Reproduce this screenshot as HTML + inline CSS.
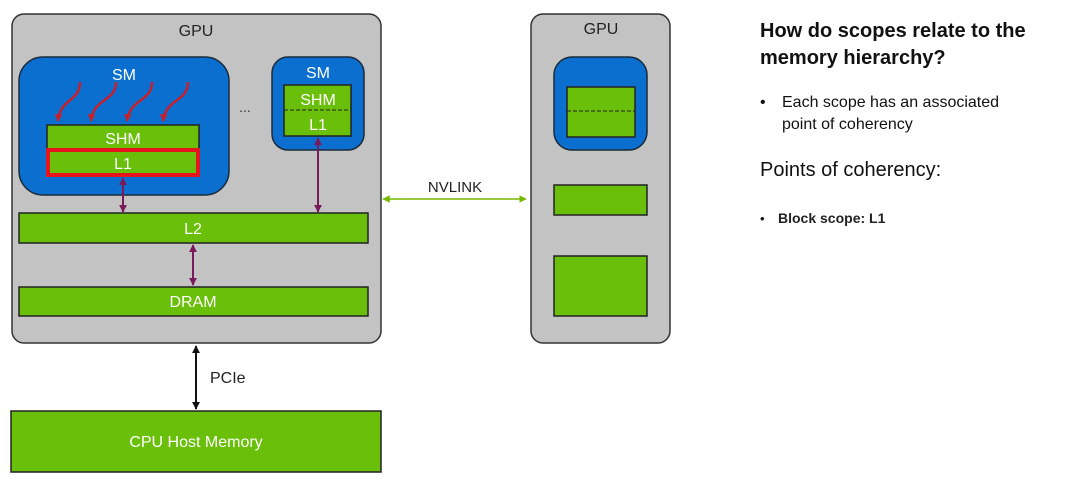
<!DOCTYPE html>
<html><head><meta charset="utf-8"><style>
html,body{margin:0;padding:0;background:#fff;}
svg{display:block;font-family:"Liberation Sans","DejaVu Sans",sans-serif;}
</style></head><body>
<svg width="1080" height="481" viewBox="0 0 1080 481" xmlns="http://www.w3.org/2000/svg">
<defs>
<marker id="pu" viewBox="0 0 10 10" refX="9" refY="5" markerWidth="4" markerHeight="4" orient="auto-start-reverse"><path d="M0,0L10,5L0,10z" fill="#7a1a5a"/></marker>
<marker id="bk" viewBox="0 0 10 10" refX="9" refY="5" markerWidth="4" markerHeight="4" orient="auto-start-reverse"><path d="M0,0L10,5L0,10z" fill="#111"/></marker>
<marker id="gr" viewBox="0 0 10 10" refX="9" refY="5" markerWidth="5" markerHeight="5" orient="auto-start-reverse"><path d="M0,0L10,5L0,10z" fill="#76b900"/></marker>
<marker id="rd" viewBox="0 0 10 10" refX="9" refY="5" markerWidth="3" markerHeight="3" orient="auto"><path d="M0,0L10,5L0,10z" fill="#c8202a"/></marker>
</defs>
<rect x="12" y="14" width="369" height="329" rx="12" fill="#c3c3c3" stroke="#333" stroke-width="1.5"/>
<text x="196" y="36" font-size="16" text-anchor="middle" fill="#222">GPU</text>
<rect x="19" y="57" width="210" height="138" rx="24" fill="#0b6fcf" stroke="#1a2a3a" stroke-width="1.5"/>
<text x="124" y="80" font-size="16" text-anchor="middle" fill="#fff">SM</text>
<g fill="none" stroke="#c8202a" stroke-width="2.5" marker-end="url(#rd)">
<path d="M80,82 C80,102 60,98 58,121"/>
<path d="M116,82 C116,102 93,98 91,121"/>
<path d="M152,82 C152,102 130,98 127,121"/>
<path d="M188,82 C188,102 166,98 163,121"/>
</g>
<rect x="47" y="125" width="152" height="25" fill="#6abf0a" stroke="#222" stroke-width="1.5"/>
<text x="123" y="144" font-size="16" text-anchor="middle" fill="#fff">SHM</text>
<rect x="48" y="150" width="150" height="25" fill="#6abf0a" stroke="#e8141c" stroke-width="4"/>
<text x="123" y="169" font-size="16" text-anchor="middle" fill="#fff">L1</text>
<text x="245" y="112" font-size="14" text-anchor="middle" fill="#333">...</text>
<rect x="272" y="57" width="92" height="93" rx="16" fill="#0b6fcf" stroke="#1a2a3a" stroke-width="1.5"/>
<text x="318" y="78" font-size="16" text-anchor="middle" fill="#fff">SM</text>
<rect x="284" y="85" width="67" height="51" fill="#6abf0a" stroke="#222" stroke-width="1.5"/>
<line x1="284" y1="110" x2="351" y2="110" stroke="#222" stroke-dasharray="4,2"/>
<text x="318" y="105" font-size="16" text-anchor="middle" fill="#fff">SHM</text>
<text x="318" y="130" font-size="16" text-anchor="middle" fill="#fff">L1</text>
<g stroke="#7a1a5a" stroke-width="2" marker-start="url(#pu)" marker-end="url(#pu)">
<line x1="123" y1="178" x2="123" y2="212"/>
<line x1="318" y1="138" x2="318" y2="212"/>
<line x1="193" y1="245" x2="193" y2="285"/>
</g>
<rect x="19" y="213" width="349" height="30" fill="#6abf0a" stroke="#222" stroke-width="1.5"/>
<text x="193" y="234" font-size="16" text-anchor="middle" fill="#fff">L2</text>
<rect x="19" y="287" width="349" height="29" fill="#6abf0a" stroke="#222" stroke-width="1.5"/>
<text x="193" y="307" font-size="16" text-anchor="middle" fill="#fff">DRAM</text>
<line x1="196" y1="346" x2="196" y2="409" stroke="#111" stroke-width="2" marker-start="url(#bk)" marker-end="url(#bk)"/>
<text x="210" y="383" font-size="16" fill="#222">PCIe</text>
<rect x="11" y="411" width="370" height="61" fill="#6abf0a" stroke="#222" stroke-width="1.5"/>
<text x="196" y="447" font-size="16" text-anchor="middle" fill="#fff">CPU Host Memory</text>
<line x1="383" y1="199" x2="526" y2="199" stroke="#76b900" stroke-width="1.5" marker-start="url(#gr)" marker-end="url(#gr)"/>
<text x="455" y="192" font-size="15" text-anchor="middle" fill="#222">NVLINK</text>
<rect x="531" y="14" width="139" height="329" rx="12" fill="#c3c3c3" stroke="#333" stroke-width="1.5"/>
<text x="601" y="34" font-size="16" text-anchor="middle" fill="#222">GPU</text>
<rect x="554" y="57" width="93" height="93" rx="18" fill="#0b6fcf" stroke="#1a2a3a" stroke-width="1.5"/>
<rect x="567" y="87" width="68" height="50" fill="#6abf0a" stroke="#222" stroke-width="1.5"/>
<line x1="567" y1="111" x2="635" y2="111" stroke="#222" stroke-dasharray="4,2"/>
<rect x="554" y="185" width="93" height="30" fill="#6abf0a" stroke="#222" stroke-width="1.5"/>
<rect x="554" y="256" width="93" height="60" fill="#6abf0a" stroke="#222" stroke-width="1.5"/>
<text x="760" y="37" font-size="20" font-weight="bold" fill="#111">How do scopes relate to the</text>
<text x="760" y="64" font-size="20" font-weight="bold" fill="#111">memory hierarchy?</text>
<text x="760" y="107" font-size="16" fill="#111">•</text>
<text x="782" y="107" font-size="16" fill="#111">Each scope has an associated</text>
<text x="782" y="129" font-size="16" fill="#111">point of coherency</text>
<text x="760" y="176" font-size="20" fill="#111">Points of coherency:</text>
<text x="760" y="223" font-size="13" fill="#111">•</text>
<text x="778" y="223" font-size="14" font-weight="bold" fill="#222">Block scope: L1</text>
</svg>
</body></html>
